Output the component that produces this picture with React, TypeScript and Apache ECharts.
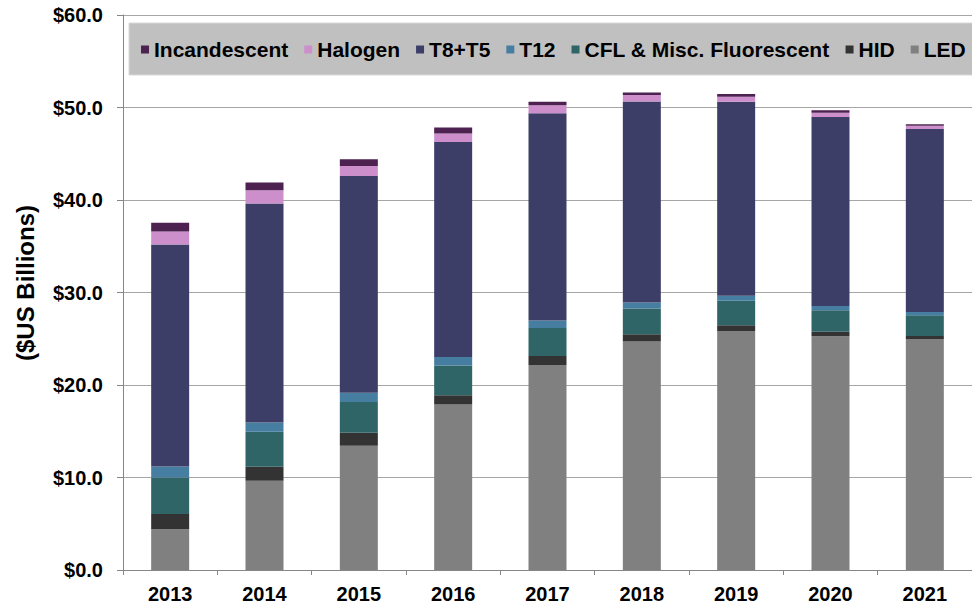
import React, { useEffect, useRef } from "react";
import * as echarts from "echarts";

const years = ["2013", "2014", "2015", "2016", "2017", "2018", "2019", "2020", "2021"];
const led = [4.4, 9.66, 13.44, 17.9, 22.16, 24.7, 25.84, 25.26, 24.97];
const hid = [1.65, 1.5, 1.41, 1.0, 0.98, 0.8, 0.61, 0.51, 0.33];
const cfl = [3.95, 3.78, 3.31, 3.2, 3.02, 2.77, 2.67, 2.3, 2.23];
const t12 = [1.2, 1.0, 1.01, 0.93, 0.8, 0.65, 0.54, 0.47, 0.36];
const t8t5 = [24.0, 23.68, 23.43, 23.25, 22.41, 21.73, 20.97, 20.43, 19.79];
const halogen = [1.4, 1.44, 1.08, 0.9, 0.86, 0.69, 0.54, 0.47, 0.35];
const incandescent = [0.95, 0.84, 0.72, 0.66, 0.4, 0.28, 0.29, 0.26, 0.17];

const legendOrder = ["Incandescent", "Halogen", "T8+T5", "T12", "CFL & Misc. Fluorescent", "HID", "LED"];

const FONT = '"Liberation Sans", Arial, Helvetica, sans-serif';

export default function App() {
  const ref = useRef<HTMLDivElement>(null);
  useEffect(() => {
    if (!ref.current) return;
    const chart = echarts.init(ref.current, null, { renderer: "svg" });
    const stackDefs = [
      { name: "LED", data: led, color: "#808080" },
      { name: "HID", data: hid, color: "#333333" },
      { name: "CFL & Misc. Fluorescent", data: cfl, color: "#2f6567" },
      { name: "T12", data: t12, color: "#467ea2" },
      { name: "T8+T5", data: t8t5, color: "#3d3e67" },
      { name: "Halogen", data: halogen, color: "#cc8fcc" },
      { name: "Incandescent", data: incandescent, color: "#4d2150" },
    ];
    chart.setOption({
      animation: false,
      grid: { left: 123, top: 15, width: 858, height: 555 },
      graphic: [
        {
          type: "rect",
          z: 0,
          shape: { x: 129, y: 23, width: 860, height: 52 },
          style: { fill: "#c0c0c0", stroke: "#d8d8d8", lineWidth: 1 },
        },
        {
          type: "text",
          x: 25,
          y: 283,
          rotation: Math.PI / 2,
          style: {
            text: "($US Billions)",
            font: `bold 24px ${FONT}`,
            fill: "#000",
            textAlign: "center",
            textVerticalAlign: "middle",
          },
        },
      ],
      legend: {
        data: legendOrder,
        orient: "horizontal",
        left: 141,
        top: 39,
        width: 900,
        padding: 0,
        itemWidth: 8,
        itemHeight: 8,
        itemGap: 16,
        icon: "rect",
        textStyle: { fontFamily: FONT, fontWeight: "bold", fontSize: 21, color: "#000" },
        z: 10,
      },
      xAxis: {
        type: "category",
        data: years,
        axisLine: { lineStyle: { color: "#868686", width: 1 } },
        axisTick: { show: true, length: 5, lineStyle: { color: "#868686" } },
        axisLabel: { fontFamily: FONT, fontWeight: "bold", fontSize: 20, color: "#000", margin: 14 },
      },
      yAxis: {
        type: "value",
        min: 0,
        max: 60,
        interval: 10,
        axisLine: { show: true, lineStyle: { color: "#868686", width: 1 } },
        axisTick: { show: true, length: 6, lineStyle: { color: "#868686" } },
        splitLine: { show: true, lineStyle: { color: "#a6a6a6", width: 1 } },
        axisLabel: {
          fontFamily: FONT,
          fontWeight: "bold",
          fontSize: 20,
          color: "#000",
          margin: 20,
          formatter: (v: number) => "$" + v.toFixed(1),
        },
      },
      series: stackDefs.map((s) => ({
        name: s.name,
        type: "bar",
        stack: "total",
        barWidth: 38,
        data: s.data,
        itemStyle: { color: s.color },
      })),
    });
    return () => chart.dispose();
  }, []);
  return (
    <div
      ref={ref}
      style={{ position: "fixed", left: 0, top: 0, width: 972, height: 607, background: "#fff" }}
    />
  );
}
